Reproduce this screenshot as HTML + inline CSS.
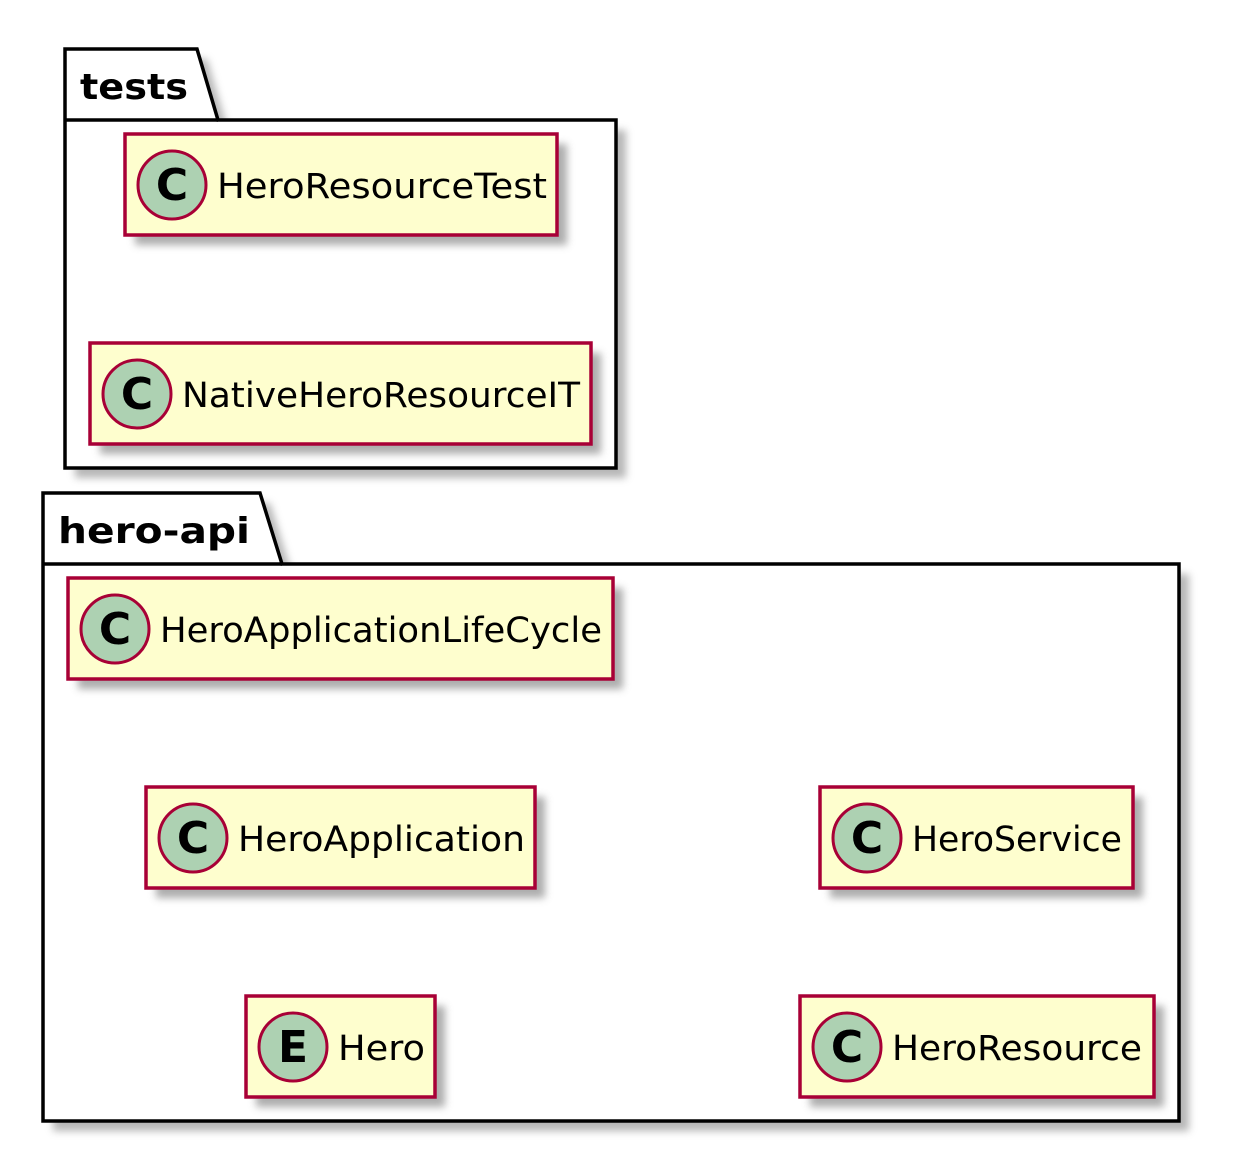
<!DOCTYPE html>
<html><head><meta charset="utf-8"><style>html,body{margin:0;padding:0;background:#fff}svg{display:block}</style></head>
<body>
<svg width="1243" height="1156" viewBox="0 0 1243 1156" xmlns="http://www.w3.org/2000/svg" font-family="'DejaVu Sans','Liberation Sans',sans-serif">
<defs>
<filter id="sh" x="-10%" y="-10%" width="130%" height="130%"><feGaussianBlur stdDeviation="4"/></filter>
</defs>
<!-- tests package -->
<g>
<path d="M75,59 L207,59 L228,130 L626,130 L626,478 L75,478 Z" fill="#999" filter="url(#sh)" opacity="0.7"/>
<path d="M65,49 L197,49 L218,120 L616,120 L616,468 L65,468 Z" fill="#fff" stroke="#000" stroke-width="3.5"/>
<line x1="65" y1="120" x2="218" y2="120" stroke="#000" stroke-width="3.5"/>
<text x="80" y="99" font-size="36" font-weight="bold" textLength="108" lengthAdjust="spacingAndGlyphs">tests</text>
</g>
<!-- hero-api package -->
<g>
<path d="M53,503 L270,503 L292,574 L1189,574 L1189,1131 L53,1131 Z" fill="#999" filter="url(#sh)" opacity="0.7"/>
<path d="M43,493 L260,493 L282,564 L1179,564 L1179,1121 L43,1121 Z" fill="#fff" stroke="#000" stroke-width="3.5"/>
<line x1="43" y1="564" x2="282" y2="564" stroke="#000" stroke-width="3.5"/>
<text x="58" y="543" font-size="36" font-weight="bold" textLength="192" lengthAdjust="spacingAndGlyphs">hero-api</text>
</g>
<!-- classes -->
<g id="cls">
<!-- HeroResourceTest -->
<rect x="135" y="144" width="432" height="101" fill="#999" filter="url(#sh)" opacity="0.8"/>
<rect x="125" y="134" width="432" height="101" fill="#FEFECE" stroke="#A80036" stroke-width="3.5"/>
<circle cx="172" cy="185" r="34" fill="#ADD1B2" stroke="#A80036" stroke-width="3"/>
<text x="172" y="200" font-size="44" font-weight="bold" text-anchor="middle">C</text>
<text x="217" y="198" font-size="35" textLength="330" lengthAdjust="spacingAndGlyphs">HeroResourceTest</text>

<rect x="100" y="353" width="501" height="101" fill="#999" filter="url(#sh)" opacity="0.8"/>
<rect x="90" y="343" width="501" height="101" fill="#FEFECE" stroke="#A80036" stroke-width="3.5"/>
<circle cx="137" cy="394" r="34" fill="#ADD1B2" stroke="#A80036" stroke-width="3"/>
<text x="137" y="409" font-size="44" font-weight="bold" text-anchor="middle">C</text>
<text x="182" y="407" font-size="35" textLength="398" lengthAdjust="spacingAndGlyphs">NativeHeroResourceIT</text>

<rect x="78" y="588" width="545" height="101" fill="#999" filter="url(#sh)" opacity="0.8"/>
<rect x="68" y="578" width="545" height="101" fill="#FEFECE" stroke="#A80036" stroke-width="3.5"/>
<circle cx="115" cy="629" r="34" fill="#ADD1B2" stroke="#A80036" stroke-width="3"/>
<text x="115" y="644" font-size="44" font-weight="bold" text-anchor="middle">C</text>
<text x="160" y="642" font-size="35" textLength="442" lengthAdjust="spacingAndGlyphs">HeroApplicationLifeCycle</text>

<rect x="156" y="797" width="389" height="101" fill="#999" filter="url(#sh)" opacity="0.8"/>
<rect x="146" y="787" width="389" height="101" fill="#FEFECE" stroke="#A80036" stroke-width="3.5"/>
<circle cx="193" cy="838" r="34" fill="#ADD1B2" stroke="#A80036" stroke-width="3"/>
<text x="193" y="853" font-size="44" font-weight="bold" text-anchor="middle">C</text>
<text x="238" y="851" font-size="35" textLength="287" lengthAdjust="spacingAndGlyphs">HeroApplication</text>

<rect x="830" y="797" width="313" height="101" fill="#999" filter="url(#sh)" opacity="0.8"/>
<rect x="820" y="787" width="313" height="101" fill="#FEFECE" stroke="#A80036" stroke-width="3.5"/>
<circle cx="867" cy="838" r="34" fill="#ADD1B2" stroke="#A80036" stroke-width="3"/>
<text x="867" y="853" font-size="44" font-weight="bold" text-anchor="middle">C</text>
<text x="912" y="851" font-size="35" textLength="210" lengthAdjust="spacingAndGlyphs">HeroService</text>

<rect x="256" y="1006" width="189" height="101" fill="#999" filter="url(#sh)" opacity="0.8"/>
<rect x="246" y="996" width="189" height="101" fill="#FEFECE" stroke="#A80036" stroke-width="3.5"/>
<circle cx="293" cy="1047" r="34" fill="#ADD1B2" stroke="#A80036" stroke-width="3"/>
<text x="293" y="1062" font-size="44" font-weight="bold" text-anchor="middle">E</text>
<text x="338" y="1060" font-size="35" textLength="87" lengthAdjust="spacingAndGlyphs">Hero</text>

<rect x="810" y="1006" width="354" height="101" fill="#999" filter="url(#sh)" opacity="0.8"/>
<rect x="800" y="996" width="354" height="101" fill="#FEFECE" stroke="#A80036" stroke-width="3.5"/>
<circle cx="847" cy="1047" r="34" fill="#ADD1B2" stroke="#A80036" stroke-width="3"/>
<text x="847" y="1062" font-size="44" font-weight="bold" text-anchor="middle">C</text>
<text x="892" y="1060" font-size="35" textLength="250" lengthAdjust="spacingAndGlyphs">HeroResource</text>
</g>
</svg>
</body></html>
